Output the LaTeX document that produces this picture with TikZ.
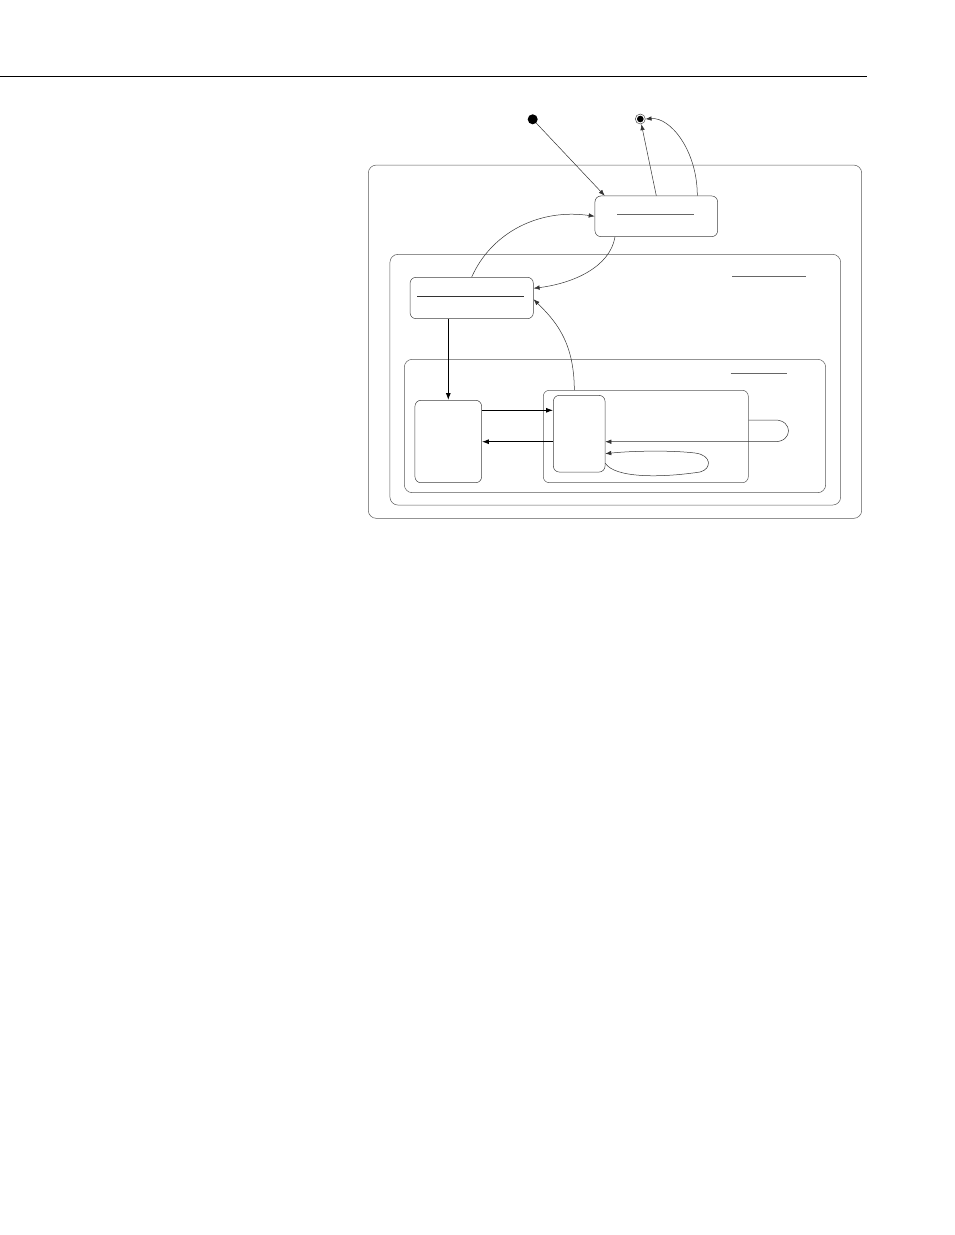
\documentclass[tikz,border=0pt]{standalone}
\usetikzlibrary{arrows.meta}
\begin{document}
\begin{tikzpicture}[x=1pt, y=-1pt, >={Latex[length=6pt,width=4.5pt]},
    region/.style={draw=black!65, line width=0.5pt, rounded corners=8pt, inner sep=0pt},
    statebox/.style={draw=black!75, line width=0.5pt, rounded corners=6pt, inner sep=0pt},
    namerule/.style={draw=black!60, line width=0.5pt},
    thin arrow/.style={->, draw=black!80, line width=0.5pt},
    thick arrow/.style={->, draw=black, line width=0.9pt, >={Latex[length=7pt,width=5pt]}}]
    \useasboundingbox (0,0) rectangle (954,1235);

    % Riga di intestazione
    \draw[line width=1pt] (0,76) -- (867,76);

    % Regioni annidate
    \node[region, minimum width=493.4pt, minimum height=353.3pt] (outer) at (615,341.7) {};
    \node[region, minimum width=450.7pt, minimum height=250.7pt] (middle) at (615.3,379.7) {};
    \node[region, minimum width=421.4pt, minimum height=133.4pt] (inner) at (615,426) {};
    \node[region, rounded corners=6pt, minimum width=205pt, minimum height=92.4pt] (comp) at (645.8,436.5) {};

    % Stati
    \node[statebox, minimum width=122.7pt, minimum height=40.7pt] (top) at (656.3,216.3) {};
    \node[statebox, minimum width=123.3pt, minimum height=41.4pt] (entry) at (471.7,298) {};
    \node[statebox, minimum width=66.7pt, minimum height=82.4pt] (left) at (448.3,441.5) {};
    \node[statebox, minimum width=51.7pt, minimum height=76.7pt] (sub) at (579.2,433.7) {};

    % Pseudostati iniziale e finale
    \node[circle, fill=black, minimum size=10pt, inner sep=0pt] (init) at (532.7,119.3) {};
    \node[circle, draw=black!70, line width=0.5pt, minimum size=10pt, inner sep=0pt] (final) at (640.3,119) {};
    \fill (final.center) circle[radius=3.3pt];

    % Linee dei nomi
    \draw[namerule] (617,214.7) -- (694,214.7);
    \draw[namerule] (732,276) -- (805.7,276);
    \draw[namerule, draw=black!80] (417,296.3) -- (524.3,296.3);
    \draw[namerule] (730.7,373) -- (787,373);

    % Transizioni esterne
    \draw[thin arrow] (init) -- ([xshift=10pt]top.north west);
    \draw[thin arrow] (top.north) -- (final);
    \draw[thin arrow] ([xshift=41pt]top.north) .. controls +(0,-45) and +(25,-2) .. (final.east);
    \draw[thin arrow] (entry.north) .. controls +(20,-45) and +(-55,-8) .. (top.west);
    \draw[thin arrow] ([xshift=-41.3pt]top.south) .. controls +(-5,30) and +(40,-5) .. ([yshift=9.7pt]entry.east);
    \draw[thin arrow] ([xshift=-71.5pt]comp.north) .. controls +(0,-50) and +(20,20) .. ([yshift=-1.3pt]entry.east);

    % Transizioni interne
    \draw[thick arrow] (entry.south -| left.north) -- (left.north);
    \draw[thick arrow] ([yshift=31.2pt]left.east) -- ([yshift=23.4pt]sub.west);
    \draw[thick arrow] ([yshift=-8pt]sub.west) -- ([yshift=-8pt]sub.west -| left.east);

    % Autotransizioni
    \draw[thin arrow] ([yshift=16.5pt]comp.east) -- (775,420)
        .. controls +(18,0) and +(18,0) .. (775,441.7) -- ([yshift=-8pt]sub.east);
    \draw[thin arrow] ([yshift=-29.6pt]sub.east) .. controls (615,478) and (660,478) .. (700,472)
        .. controls (712,469) and (712,455) .. (695,453)
        .. controls (670,450) and (630,451) .. ([yshift=-20pt]sub.east);
\end{tikzpicture}
\end{document}
